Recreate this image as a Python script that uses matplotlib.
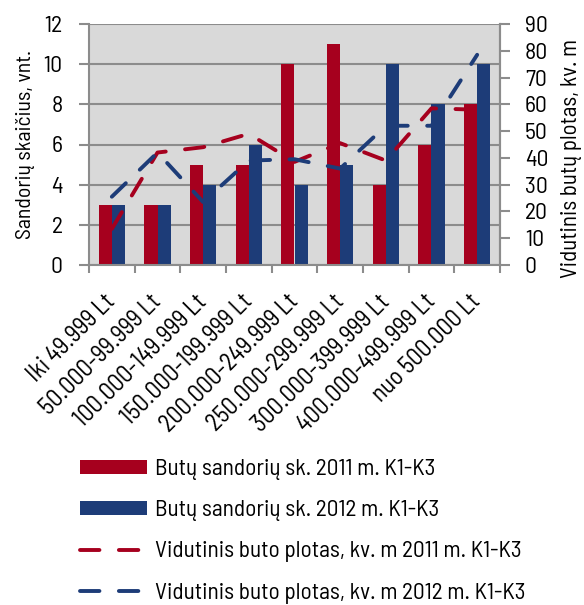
import matplotlib
matplotlib.use("Agg")
import matplotlib.pyplot as plt
from matplotlib.patches import Patch
from matplotlib.lines import Line2D
import numpy as np

plt.rcParams['font.family'] = ['Barlow Semi Condensed', 'Roboto Condensed', 'DejaVu Sans']

categories = ["Iki 49.999 Lt", "50.000-99.999 Lt", "100.000-149.999 Lt",
              "150.000-199.999 Lt", "200.000-249.999 Lt", "250.000-299.999 Lt",
              "300.000-399.999 Lt", "400.000-499.999 Lt", "nuo 500.000 Lt"]
deals_2011 = [3, 3, 5, 5, 10, 11, 4, 6, 8]
deals_2012 = [3, 3, 4, 6, 4, 5, 10, 8, 10]
area_2011 = [13.5, 42, 44, 49, 38.5, 45.5, 39, 58.5, 58]
area_2012 = [25.5, 42, 23.5, 39, 39.5, 36, 52, 52, 78.5]

left_ticks = [0, 2, 4, 6, 8, 10, 12]
right_ticks = [0, 10, 20, 30, 40, 50, 60, 70, 80, 90]

RED = "#A6001E"
BLUE = "#1D3C78"
BG = "#D9D9D9"
GRID = "#8C8C8C"

fig = plt.figure(figsize=(5.84, 6.05), dpi=100)
ax = fig.add_axes([89/584, 1-265/605, (500-89)/584, (265-24)/605])
ax.set_facecolor(BG)

x = np.arange(len(categories))
bw = 0.285
ax.bar(x - bw/2, deals_2011, bw, color=RED, zorder=2)
ax.bar(x + bw/2, deals_2012, bw, color=BLUE, zorder=2)

ax.set_xlim(-0.5, len(categories) - 0.5)
ax.set_ylim(0, 12)
ax.set_yticks(left_ticks)
ax.yaxis.grid(True, color=GRID, linewidth=1.5, zorder=1)
ax.set_axisbelow(True)

# category boundaries as major ticks, labels on minor ticks at centres
ax.set_xticks(np.arange(-0.5, len(categories)), labels=[])
ax.set_xticks(x, labels=categories, minor=True)
ax.tick_params(axis='x', which='major', length=6, width=1.5, color=GRID)
ax.tick_params(axis='x', which='minor', length=0, pad=24)
for lbl in ax.get_xticklabels(minor=True):
    lbl.set_rotation(45)
    lbl.set_rotation_mode('anchor')
    lbl.set_ha('right')
    lbl.set_va('center')
    lbl.set_fontsize(17.5)

ax.tick_params(axis='y', length=7, width=1.5, color=GRID, pad=12, labelsize=17)
for s in ax.spines.values():
    s.set_color(GRID)
    s.set_linewidth(1.5)
ax.spines['top'].set_visible(False)
ax.set_ylabel("Sandorių skaičius, vnt.", fontsize=15.7)
ax.yaxis.set_label_coords(-54/411, 0.5)

ax2 = ax.twinx()
ax2.set_ylim(0, 90)
ax2.set_yticks(right_ticks)
ax2.tick_params(axis='y', length=7, width=1.5, color=GRID, pad=11, labelsize=17)
for s in ax2.spines.values():
    s.set_visible(False)

dash = dict(linewidth=2.8, dashes=(5.0, 5.0), dash_capstyle='round',
            solid_capstyle='round')
ax2.plot(x, area_2011, color=RED, zorder=3, **dash)
ax2.plot(x, area_2012, color=BLUE, zorder=3, **dash)
ax2.set_ylabel("Vidutinis butų plotas, kv. m", fontsize=16.5)
ax2.yaxis.set_label_coords(1 + 61/411, (265-158)/241)
ax2.spines['right'].set_visible(True)
ax2.spines['right'].set_color(GRID)
ax2.spines['right'].set_linewidth(1.5)

handles = [
    Patch(facecolor=RED, edgecolor='none'),
    Patch(facecolor=BLUE, edgecolor='none'),
    Line2D([], [], color=RED, **dash),
    Line2D([], [], color=BLUE, **dash),
]
labels = ["Butų sandorių sk. 2011 m. K1-K3",
          "Butų sandorių sk. 2012 m. K1-K3",
          "Vidutinis buto plotas, kv. m 2011 m. K1-K3",
          "Vidutinis buto plotas, kv. m 2012 m. K1-K3"]
fig.legend(handles, labels, loc='upper left', bbox_to_anchor=(64/584, 1-443/605),
           frameon=False, fontsize=16.8, handlelength=2.85, handleheight=0.52,
           labelspacing=0.86, handletextpad=0.36, borderpad=0.2)

fig.savefig("out.png", dpi=100)
